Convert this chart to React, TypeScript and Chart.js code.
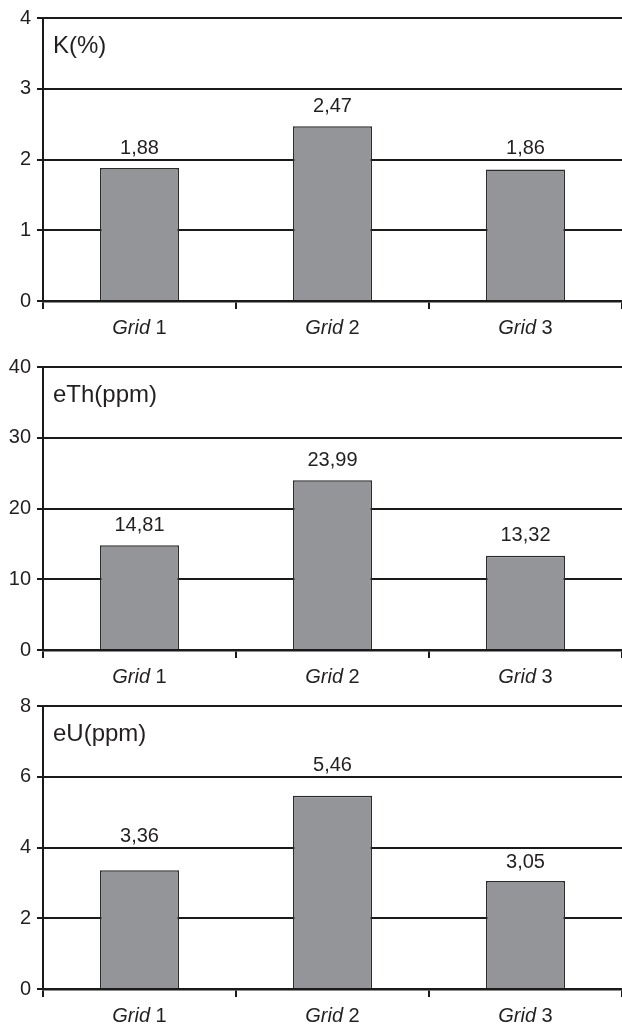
import React, { useEffect, useRef } from "react";
import { Chart, registerables } from "chart.js";

Chart.register(...registerables);

const categories = ["1", "2", "3"];
const categoryPrefix = "Grid";

const kValues = [1.88, 2.47, 1.86];
const thValues = [14.81, 23.99, 13.32];
const uValues = [3.36, 5.46, 3.05];

const kTicks = { max: 4, step: 1 };
const thTicks = { max: 40, step: 10 };
const uTicks = { max: 8, step: 2 };

const titles = ["K(%)", "eTh(ppm)", "eU(ppm)"];

const FONT = "'Liberation Sans', Arial, Helvetica, sans-serif";
const TEXT = "#231f20";

const overlayPlugin = {
  id: "overlay",
  afterDraw(chart: any) {
    const ctx = chart.ctx;
    const area = chart.chartArea;
    const opts = chart.options.plugins.overlay;
    ctx.save();
    ctx.fillStyle = TEXT;
    // title
    ctx.font = `24px ${FONT}`;
    ctx.textAlign = "left";
    ctx.textBaseline = "middle";
    ctx.fillText(opts.title, area.left + 10, area.top + 28);
    // value labels
    const meta = chart.getDatasetMeta(0);
    const data = chart.data.datasets[0].data;
    ctx.font = `20px ${FONT}`;
    ctx.textAlign = "center";
    meta.data.forEach((el: any, i: number) => {
      const txt = Number(data[i]).toFixed(2).replace(".", ",");
      const off = opts.labelGap[i];
      ctx.fillText(txt, el.x, el.y - off);
    });
    // x labels: italic prefix + normal number
    const xs = chart.scales.x;
    ctx.textAlign = "left";
    chart.data.labels.forEach((lab: string, i: number) => {
      const x = xs.getPixelForValue(i);
      const y = area.bottom + 27;
      ctx.font = `italic 20px ${FONT}`;
      const w1 = ctx.measureText(categoryPrefix + " ").width;
      ctx.font = `20px ${FONT}`;
      const w2 = ctx.measureText(lab).width;
      const start = x - (w1 + w2) / 2;
      ctx.font = `italic 20px ${FONT}`;
      ctx.fillText(categoryPrefix + " ", start, y);
      ctx.font = `20px ${FONT}`;
      ctx.fillText(lab, start + w1, y);
    });
    ctx.restore();
  },
};

function BarPanel({
  values,
  ticks,
  title,
  top,
  labelGap,
}: {
  values: number[];
  ticks: { max: number; step: number };
  title: string;
  top: number;
  labelGap: number[];
}) {
  const ref = useRef<HTMLCanvasElement | null>(null);
  useEffect(() => {
    if (!ref.current) return;
    const chart = new Chart(ref.current, {
      type: "bar",
      data: {
        labels: categories,
        datasets: [
          {
            data: values,
            backgroundColor: "#939598",
            borderColor: "#2b2b2b",
            borderWidth: 1.5,
            barPercentage: 0.41,
            categoryPercentage: 1,
          },
        ],
      },
      options: {
        responsive: false,
        animation: false,
        layout: { padding: { top: 17, right: 0, left: 0, bottom: 0 } },
        plugins: {
          legend: { display: false },
          tooltip: { enabled: false },
          overlay: { title, labelGap },
        } as any,
        scales: {
          x: {
            afterFit: (s: any) => {
              s.height = 44;
            },
            ticks: { display: false },
            grid: {
              display: true,
              drawOnChartArea: false,
              drawTicks: true,
              tickLength: 8,
              color: "#1a1a1a",
              lineWidth: 2,
              offset: true,
            },
            border: { display: true, color: "#1a1a1a", width: 2.5 },
          },
          y: {
            min: 0,
            max: ticks.max,
            afterFit: (s: any) => {
              s.width = 43;
            },
            ticks: {
              stepSize: ticks.step,
              color: TEXT,
              font: { family: FONT, size: 20 },
              padding: 6,
            },
            grid: {
              color: "#1a1a1a",
              lineWidth: 2,
              tickLength: 6,
              drawTicks: true,
            },
            border: { display: true, color: "#1a1a1a", width: 2 },
          },
        },
      },
      plugins: [overlayPlugin],
    });
    return () => chart.destroy();
  }, []);
  return (
    <canvas
      ref={ref}
      width={622}
      height={345}
      style={{ position: "absolute", left: 0, top, width: 622, height: 345 }}
    />
  );
}

export default function App() {
  useEffect(() => {
    document.body.style.margin = "0";
  }, []);
  return (
    <div style={{ position: "relative", width: 622, height: 1028, background: "#fff", overflow: "hidden" }}>
      <BarPanel values={kValues} ticks={kTicks} title={titles[0]} top={0} labelGap={[20, 20, 21]} />
      <BarPanel values={thValues} ticks={thTicks} title={titles[1]} top={349} labelGap={[20, 20, 20]} />
      <BarPanel values={uValues} ticks={uTicks} title={titles[2]} top={688} labelGap={[34, 30, 19]} />
    </div>
  );
}
